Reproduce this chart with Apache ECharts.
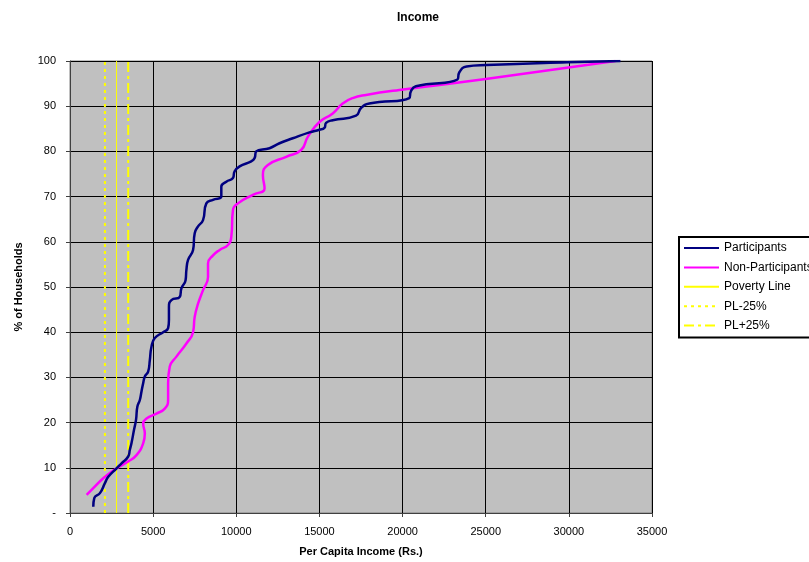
<!DOCTYPE html>
<html>
<head>
<meta charset="utf-8">
<title>Income</title>
<script src="https://cdn.jsdelivr.net/npm/echarts@6/dist/echarts.min.js"></script>
<style>
    body { margin: 0; background: #ffffff; }
    #main { width: 809px; height: 562px; }
</style>
</head>
<body>
<div id="main"></div>
<script>
// 参与者 (income, % of households)
const partIncome = [1400, 1460, 1800, 2100, 2300, 2800, 3100, 3500, 3600, 3700, 3850, 3970, 4050, 4200, 4300, 4400, 4500, 4700, 4800, 4900, 5100, 5600, 5900, 5950, 5950, 6100, 6600, 6700, 6950, 7000, 7100, 7400, 7500, 7700, 8000, 8200, 8600, 9100, 9100, 9400, 9800, 9900, 10200, 10900, 11100, 11200, 12000, 12600, 13400, 14400, 15000, 15300, 15400, 15800, 17200, 17500, 18000, 20400, 20500, 20800, 23300, 23400, 23850, 25050, 29900, 33100]
const partPct = [1.4, 3.3, 4.4, 6.6, 8, 9.9, 11, 12.5, 14, 15.5, 18.4, 20.6, 23.5, 25, 26.9, 28.7, 30.2, 31.3, 33.8, 36.8, 38.7, 40, 40.9, 42.7, 45.6, 47.1, 47.8, 49.7, 51.5, 53.8, 56, 58.2, 61.9, 63.4, 64.8, 68.5, 69.3, 70, 72.2, 73.3, 74.1, 75.6, 76.7, 77.8, 78.5, 80, 80.7, 81.8, 82.9, 84.2, 84.8, 85.2, 86.3, 86.9, 87.9, 89.6, 90.6, 91.8, 93.3, 94.4, 95.9, 97.4, 98.8, 99.1, 99.7, 100]
// 非参与者
const nonIncome = [1000, 1400, 2000, 2600, 3000, 3500, 4000, 4400, 4500, 4400, 4600, 5200, 5700, 5900, 5900, 6000, 6400, 7000, 7400, 7500, 7700, 8000, 8300, 8300, 8600, 9000, 9500, 9700, 9800, 10100, 11000, 11700, 11600, 11900, 13000, 13900, 14300, 15000, 15800, 16400, 17000, 17800, 19800, 25000, 32800]
const nonPct = [4, 5.5, 7.7, 9.4, 10.3, 11.4, 12.8, 15.4, 17.6, 19.8, 20.9, 22, 23.1, 25, 28.7, 32.4, 34.6, 37.5, 40, 43.4, 46.3, 49.3, 52.2, 55.2, 57, 58.2, 59.3, 61.1, 67, 68.5, 70.4, 71.8, 74.8, 77, 78.8, 80.3, 83.2, 86.5, 88.4, 90.6, 91.8, 92.5, 93.6, 96, 100]
// 贫困线
const povertyLine = 2800
const plMinus = 2100
const plPlus = 3500
const pctRange = [0, 100]

const zip = (xs, ys) => xs.map((x, i) => [x, ys[i]])
const vline = (x) => pctRange.map(p => [x, p])

var myChart = echarts.init(document.getElementById('main'));
let option = {
    animation: false,
    backgroundColor: '#ffffff',
    textStyle: { fontFamily: 'Liberation Sans, Arial, sans-serif' },
    title: {
        text: 'Income',
        left: 413,
        top: 7,
        textAlign: 'center',
        textStyle: { fontSize: 12, fontWeight: 'bold', color: '#000' }
    },
    legend: {
        orient: 'vertical',
        left: 679,
        top: 237,
        padding: [5, 40, 6, 4],
        itemWidth: 35,
        itemHeight: 12,
        itemGap: 7.4,
        borderColor: '#000',
        borderWidth: 2,
        backgroundColor: '#ffffff',
        itemStyle: { opacity: 0 }, // 图例只显示线，不显示圆点
        textStyle: { fontSize: 12, color: '#000' },
        data: ['Participants', 'Non-Participants', 'Poverty Line', 'PL-25%', 'PL+25%']
    },
    grid: {
        left: 70,
        right: 157,
        top: 61,
        bottom: 49,
        show: true,
        backgroundColor: '#c0c0c0',
        borderColor: '#808080',
        borderWidth: 1
    },
    xAxis: {
        type: 'value',
        min: 0,
        max: 35000,
        interval: 5000,
        name: 'Per Capita Income (Rs.)',
        nameLocation: 'middle',
        nameGap: 33,
        nameTextStyle: { fontSize: 11, fontWeight: 'bold', color: '#000' },
        axisLine: { show: true, onZero: false, lineStyle: { color: '#404040' } },
        axisTick: { show: true, length: 4, lineStyle: { color: '#404040' } },
        axisLabel: { fontSize: 11, color: '#000', margin: 13, formatter: v => String(v) },
        splitLine: { show: true, lineStyle: { color: '#000', width: 1 } }
    },
    yAxis: {
        type: 'value',
        min: 0,
        max: 100,
        interval: 10,
        name: '% of Households',
        nameLocation: 'middle',
        nameGap: 46,
        nameTextStyle: { fontSize: 11, fontWeight: 'bold', color: '#000' },
        axisLine: { show: true, lineStyle: { color: '#404040' } },
        axisTick: { show: true, length: 4, lineStyle: { color: '#404040' } },
        axisLabel: {
            fontSize: 11, color: '#000', margin: 14,
            formatter: v => v === 0 ? '-' : String(v)
        },
        splitLine: { show: true, lineStyle: { color: '#000', width: 1 } }
    },
    series: [
        {
            name: 'Participants',
            type: 'line',
            data: zip(partIncome, partPct),
            symbol: 'none',
            smooth: 0.5,
            color: '#000080',
            lineStyle: { color: '#000080', width: 2.5 },
            z: 5
        },
        {
            name: 'Non-Participants',
            type: 'line',
            data: zip(nonIncome, nonPct),
            symbol: 'none',
            smooth: 0.5,
            color: '#ff00ff',
            lineStyle: { color: '#ff00ff', width: 2.5 },
            z: 4
        },
        {
            name: 'Poverty Line',
            type: 'line',
            data: vline(povertyLine),
            symbol: 'none',
            color: '#ffff00',
            lineStyle: { color: '#ffff00', width: 1 },
            z: 3
        },
        {
            name: 'PL-25%',
            type: 'line',
            data: vline(plMinus),
            symbol: 'none',
            color: '#ffff00',
            lineStyle: { color: '#ffff00', width: 2, type: [3, 4] },
            z: 3
        },
        {
            name: 'PL+25%',
            type: 'line',
            data: vline(plPlus),
            symbol: 'none',
            color: '#ffff00',
            lineStyle: { color: '#ffff00', width: 2, type: [10, 4, 3, 4] },
            z: 3
        }
    ]
}
myChart.setOption(option);
</script>
</body>
</html>
